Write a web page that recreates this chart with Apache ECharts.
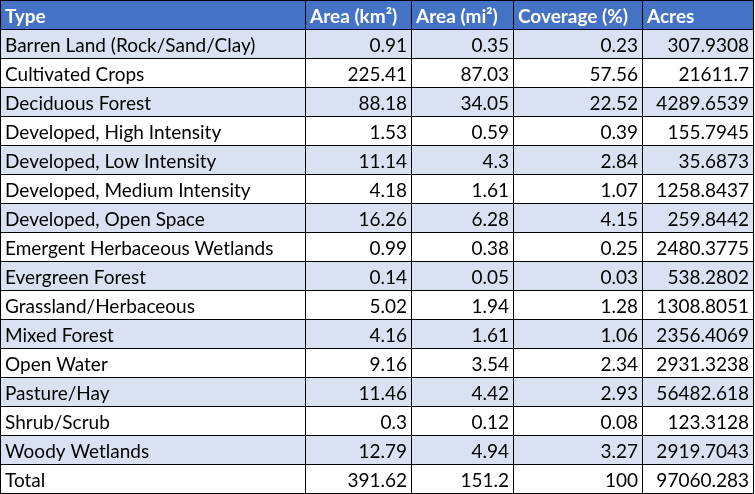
<!DOCTYPE html>
<html>
<head>
<meta charset="utf-8">
<script src="https://cdn.jsdelivr.net/npm/echarts@6/dist/echarts.min.js"></script>
<style>
  html, body { margin: 0; padding: 0; background: #fff; }
  #main { width: 755px; height: 494px; }
</style>
</head>
<body>
<div id="main"></div>
<script>
// table contents
const headers = ['Type', 'Area (km²)', 'Area (mi²)', 'Coverage (%)', 'Acres'];
const types = [
    'Barren Land (Rock/Sand/Clay)', 'Cultivated Crops', 'Deciduous Forest',
    'Developed, High Intensity', 'Developed, Low Intensity', 'Developed, Medium Intensity',
    'Developed, Open Space', 'Emergent Herbaceous Wetlands', 'Evergreen Forest',
    'Grassland/Herbaceous', 'Mixed Forest', 'Open Water', 'Pasture/Hay',
    'Shrub/Scrub', 'Woody Wetlands', 'Total'
];
const areaKm2 = [0.91, 225.41, 88.18, 1.53, 11.14, 4.18, 16.26, 0.99, 0.14, 5.02, 4.16, 9.16, 11.46, 0.3, 12.79, 391.62];
const areaMi2 = [0.35, 87.03, 34.05, 0.59, 4.3, 1.61, 6.28, 0.38, 0.05, 1.94, 1.61, 3.54, 4.42, 0.12, 4.94, 151.2];
const coverage = [0.23, 57.56, 22.52, 0.39, 2.84, 1.07, 4.15, 0.25, 0.03, 1.28, 1.06, 2.34, 2.93, 0.08, 3.27, 100];
const acres = [307.9308, 21611.7, 4289.6539, 155.7945, 35.6873, 1258.8437, 259.8442, 2480.3775, 538.2802, 1308.8051, 2356.4069, 2931.3238, 56482.618, 123.3128, 2919.7043, 97060.283];

// layout: column edges on the x axis (px units)
const colEdges = [0, 305, 411, 513, 642, 753];
const FONT = 'Lato';
const FONT_SIZE = 19;

const rowLabels = ['header'].concat(types);
const rows = rowLabels.map((name, i) => {
    if (i === 0) return headers;
    const k = i - 1;
    return [types[k], String(areaKm2[k]), String(areaMi2[k]), String(coverage[k]), String(acres[k])];
});

const renderRow = (params, api) => {
    const rowIdx = api.value(1);
    const band = api.size([0, 1])[1];
    const cy = api.coord([0, rowIdx])[1];
    const top = Math.round(cy - band / 2);
    const bottom = Math.round(cy + band / 2);
    const isHeader = rowIdx === 0;
    const fill = isHeader ? '#4472C4' : (rowIdx % 2 === 1 ? '#D9E1F2' : '#FFFFFF');
    const cells = rows[rowIdx];
    const children = [];
    const x0 = api.coord([colEdges[0], rowIdx])[0];
    const x1 = api.coord([colEdges[colEdges.length - 1], rowIdx])[0];

    children.push({
        type: 'rect',
        shape: { x: x0, y: top, width: x1 - x0 + 1, height: bottom - top },
        style: { fill: fill }
    });

    cells.forEach((txt, c) => {
        const left = api.coord([colEdges[c], rowIdx])[0];
        const right = api.coord([colEdges[c + 1], rowIdx])[0];
        const alignRight = !isHeader && c > 0;
        children.push({
            type: 'text',
            style: {
                text: txt,
                x: alignRight ? right - 4 : left + 5,
                y: (top + bottom) / 2 + 2,
                align: alignRight ? 'right' : 'left',
                verticalAlign: 'middle',
                fill: isHeader ? '#FFFFFF' : '#000000',
                font: (isHeader ? 'bold ' : '') + FONT_SIZE + 'px ' + FONT
            }
        });
    });

    // cell borders
    const lineStyle = { stroke: '#000000', lineWidth: 1 };
    children.push({
        type: 'line',
        shape: { x1: x0, y1: top + 0.5, x2: x1 + 1, y2: top + 0.5 },
        style: lineStyle
    });
    if (rowIdx === rowLabels.length - 1) {
        children.push({
            type: 'line',
            shape: { x1: x0, y1: bottom + 0.5, x2: x1 + 1, y2: bottom + 0.5 },
            style: lineStyle
        });
    }
    colEdges.forEach((e) => {
        const x = Math.round(api.coord([e, rowIdx])[0]) + 0.5;
        children.push({
            type: 'line',
            shape: { x1: x, y1: top, x2: x, y2: bottom + 1 },
            style: lineStyle
        });
    });

    return { type: 'group', children: children };
};

const chart = echarts.init(document.getElementById('main'), null, { renderer: 'canvas' });
chart.setOption({
    animation: false,
    grid: { left: 0, right: 0, top: 0, bottom: 1 },
    xAxis: { type: 'value', min: 0, max: 755, show: false },
    yAxis: { type: 'category', data: rowLabels, inverse: true, show: false },
    series: [{
        type: 'custom',
        renderItem: renderRow,
        encode: { x: 0, y: 1 },
        data: rowLabels.map((name, i) => [0, i]),
        silent: true
    }]
});
</script>
</body>
</html>
